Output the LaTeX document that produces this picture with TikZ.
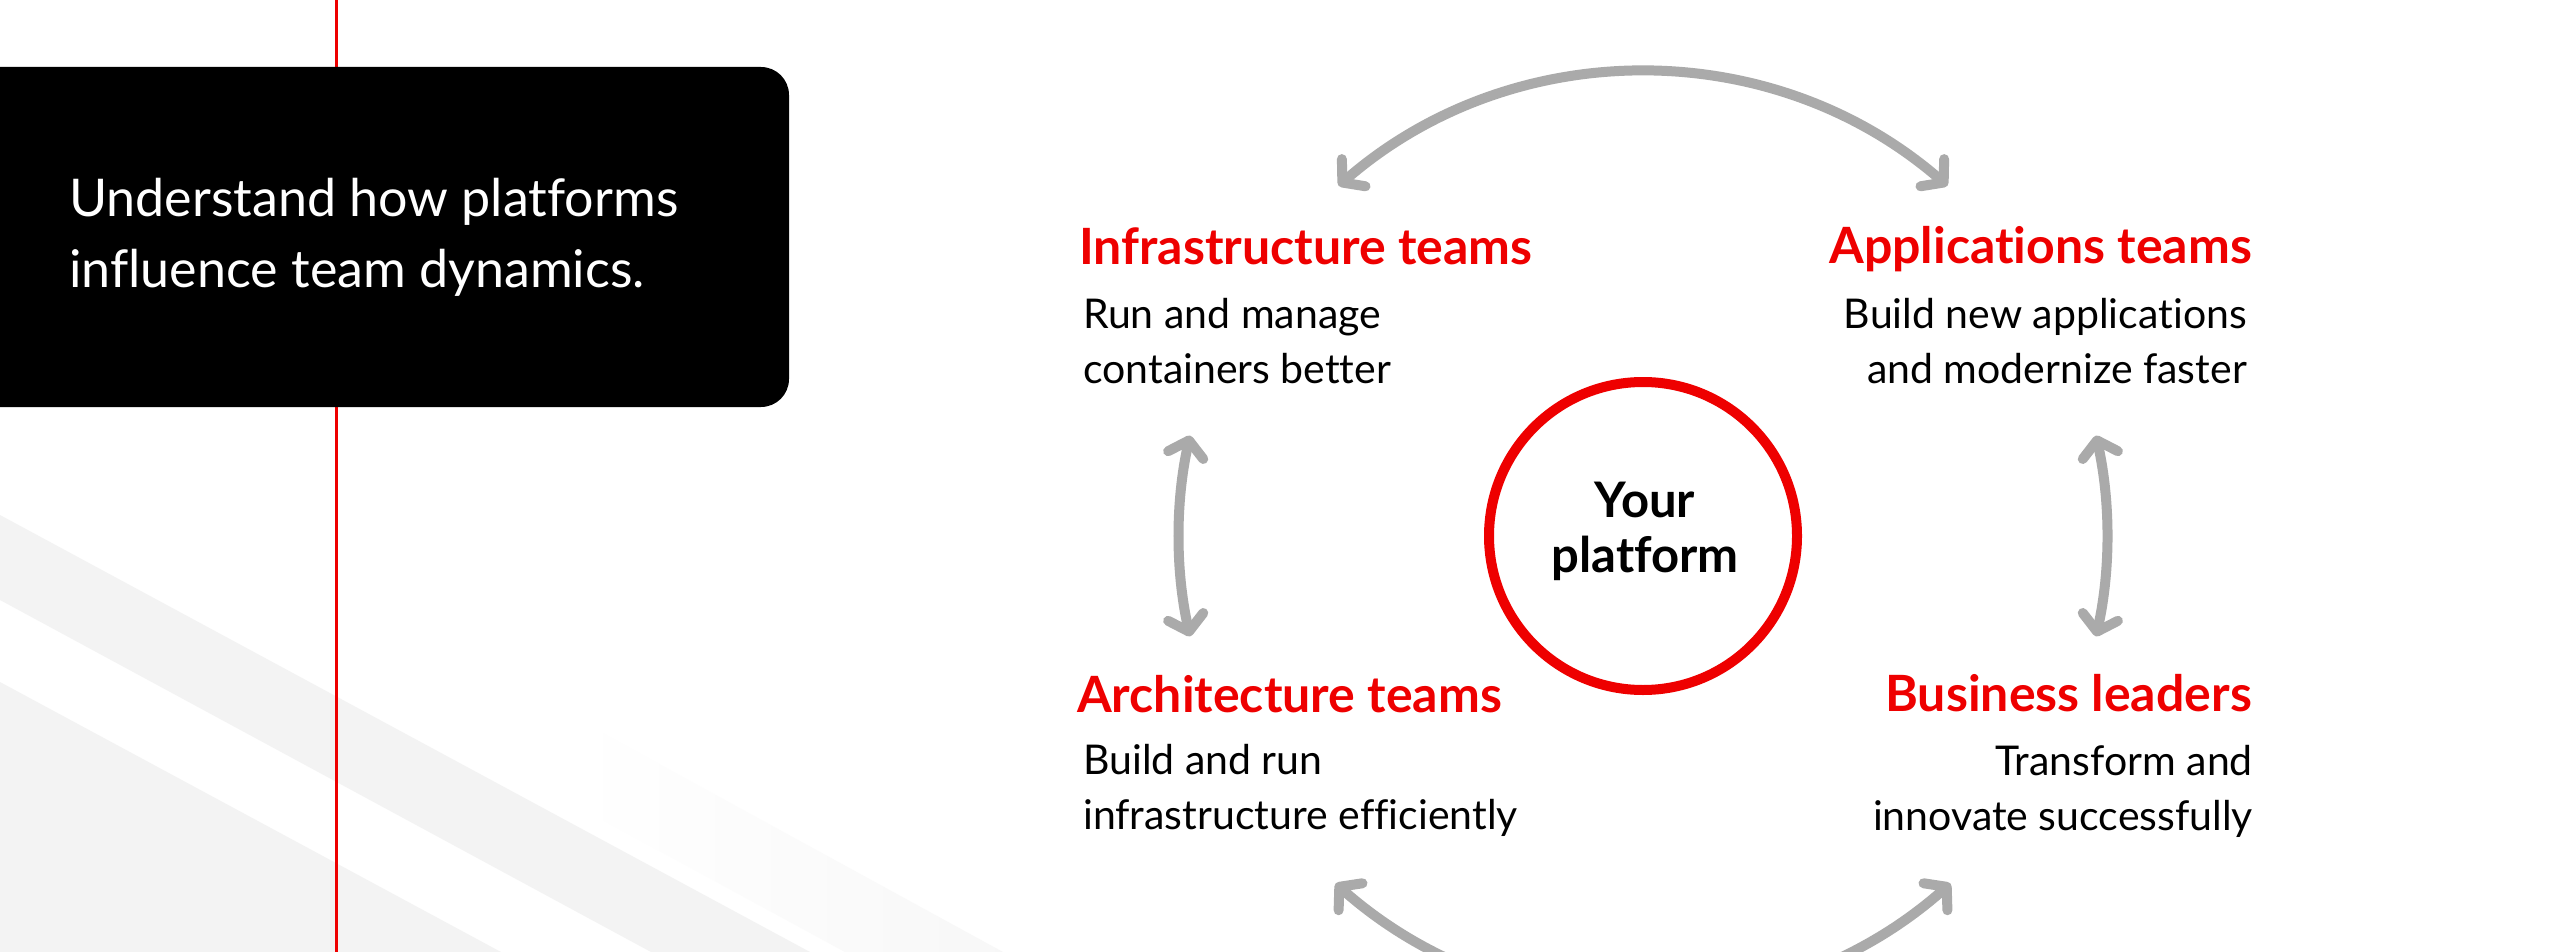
\documentclass[tikz,border=0pt]{standalone}
\usepackage{fontspec}
\setmainfont{Lato}[Ligatures=NoCommon]
\usetikzlibrary{arrows.meta}

\definecolor{brandred}{HTML}{EE0000}
\definecolor{arrowgray}{HTML}{AAAAAA}
\definecolor{bandgray}{HTML}{F3F3F3}

\tikzset{
  x=1pt, y=1pt,
  panel/.style={fill=black, rounded corners=28pt, draw=none},
  paneltext/.style={text=white, inner sep=0pt, anchor=base west,
    font=\fontsize{52}{62}\selectfont},
  head/.style={text=brandred, inner sep=0pt,
    font=\fontsize{50}{60}\selectfont\bfseries},
  body/.style={text=black, inner sep=0pt,
    font=\fontsize{41}{50}\selectfont},
  hubtext/.style={text=black, inner sep=0pt, anchor=base,
    font=\fontsize{49}{58}\selectfont\bfseries},
  hubring/.style={circle, draw=brandred, line width=10pt, fill=white,
    minimum size=308pt, inner sep=0pt},
  conn/.style={draw=arrowgray, line width=10pt,
    {Straight Barb[length=15pt, width=36pt, round]}-{Straight Barb[length=15pt, width=36pt, round]}},
}

\begin{document}
\begin{tikzpicture}
  % canvas
  \useasboundingbox[fill=white] (0,0) rectangle (2561,-952);

  % diagonal background bands
  \fill[bandgray] (0,-515) -- (810,-952) -- (651,-952) -- (0,-600) -- cycle;
  \fill[bandgray] (0,-682) -- (501,-952) -- (0,-952) -- cycle;
  \shade[left color=white, right color=black!3]
    (575,-718) -- (1003,-952) -- (845,-952) -- (575,-805) -- cycle;

  % red vertical rule
  \draw[brandred, line width=3pt] (336,0) -- (336,-952);

  % black intro panel
  \path[panel] (-60,-67) rectangle (789,-407);
  \node[paneltext] (intro1) at (69,-217) {Understand how platforms};
  \node[paneltext] (intro2) at (69,-287) {influence team dynamics.};

  % central platform ring
  \coordinate (hub) at (1643,-536);
  \node[hubring] (ring) at (hub) {};
  \node[hubtext] (your) at (1645,-517) {Your};
  \node[hubtext] (plat) at (1645,-572) {platform};

  % team labels
  \node[head, anchor=base west] (infra) at (1079,-264) {Infrastructure teams};
  \node[body, anchor=base west] (infra1) at (1083,-328) {Run and manage};
  \node[body, anchor=base west] (infra2) at (1083,-383) {containers better};

  \node[head, anchor=base east] (apps) at (2252,-263) {Applications teams};
  \node[body, anchor=base east] (apps1) at (2247,-328) {Build new applications};
  \node[body, anchor=base east] (apps2) at (2247,-383) {and modernize faster};

  \node[head, anchor=base west] (arch) at (1077,-712) {Architecture teams};
  \node[body, anchor=base west] (arch1) at (1083,-774) {Build and run};
  \node[body, anchor=base west] (arch2) at (1083,-829) {infrastructure efficiently};

  \node[head, anchor=base east] (biz) at (2252,-711) {Business leaders};
  \node[body, anchor=base east] (biz1) at (2253,-775) {Transform and};
  \node[body, anchor=base east] (biz2) at (2253,-830) {innovate successfully};

  % arc end points around the hub
  \coordinate (topL) at ([shift={(131:464)}]hub);
  \coordinate (rightT) at ([shift={(12.5:464)}]hub);
  \coordinate (botR) at ([shift={(-48.5:464)}]hub);
  \coordinate (leftB) at ([shift={(192.5:464)}]hub);

  % two-way arrows between neighbouring teams
  \draw[conn] (topL) arc[start angle=131, end angle=49, radius=464];
  \draw[conn] (rightT) arc[start angle=12.5, end angle=-12.5, radius=464];
  \draw[conn] (botR) arc[start angle=-48.5, end angle=-131.5, radius=464];
  \draw[conn] (leftB) arc[start angle=192.5, end angle=167.5, radius=464];
\end{tikzpicture}
\end{document}
